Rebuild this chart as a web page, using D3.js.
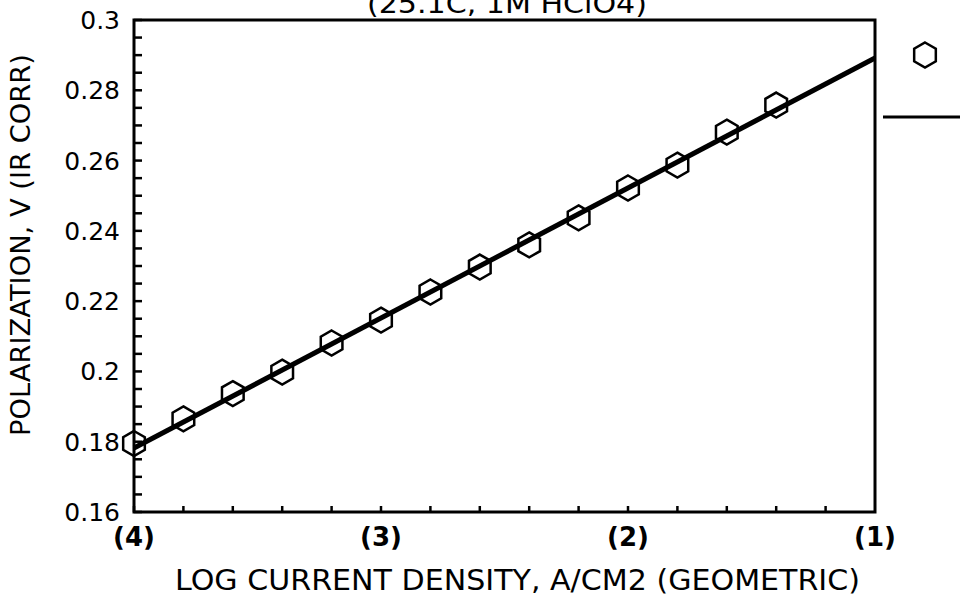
<!DOCTYPE html>
<html>
<head>
<meta charset="utf-8">
<script src="https://cdn.jsdelivr.net/npm/d3@7"></script>
<style>
  body { margin: 0; background: #fff; }
  svg text { font-family: "DejaVu Sans", sans-serif; fill: #000; }
</style>
</head>
<body>
<div id="chart"></div>
<script>
// measured points, log current density vs polarization
const logI = [-4, -3.8, -3.6, -3.4, -3.2, -3.0, -2.8, -2.6, -2.4, -2.2, -2.0, -1.8, -1.6, -1.4];
const polV = [0.1795, 0.1865, 0.1937, 0.1998, 0.2081, 0.2146, 0.2226, 0.2297, 0.2360, 0.2437, 0.2522, 0.2587, 0.2681, 0.2758];

// fitted tafel line
const fitX = [-4, -1];
const fitY = [0.1782, 0.2892];

const xTicks = [-4, -3, -2, -1];
const xTickLabels = ["(4)", "(3)", "(2)", "(1)"];
const yTicks = [0.16, 0.18, 0.2, 0.22, 0.24, 0.26, 0.28, 0.3];
const yTickLabels = ["0.16", "0.18", "0.2", "0.22", "0.24", "0.26", "0.28", "0.3"];

const titleText = "(25.1C, 1M HClO4)";
const xTitle = "LOG CURRENT DENSITY, A/CM2 (GEOMETRIC)";
const yTitle = "POLARIZATION, V (IR CORR)";

const width = 960, height = 597;
const margin = {top: 20, right: 85, bottom: 85, left: 134};

const svg = d3.select("#chart").append("svg")
    .attr("width", width)
    .attr("height", height);

const x = d3.scaleLinear().domain([-4, -1]).range([margin.left, width - margin.right]);
const y = d3.scaleLinear().domain([0.16, 0.3]).range([height - margin.bottom, margin.top]);

// minor ticks (inward)
const xMinor = d3.range(-4, -1.001, 0.2);
const yMinor = d3.range(0.16, 0.3001, 0.005);

svg.append("g").selectAll("line.xm")
    .data(xMinor).enter().append("line")
    .attr("x1", d => x(d)).attr("x2", d => x(d))
    .attr("y1", y(0.16)).attr("y2", y(0.16) - 6)
    .attr("stroke", "#000").attr("stroke-width", 2.5);

svg.append("g").selectAll("line.ym")
    .data(yMinor).enter().append("line")
    .attr("x1", x(-4)).attr("x2", x(-4) + 8)
    .attr("y1", d => y(d)).attr("y2", d => y(d))
    .attr("stroke", "#000").attr("stroke-width", 2.5);

// frame
svg.append("rect")
    .attr("x", x(-4)).attr("y", y(0.3))
    .attr("width", x(-1) - x(-4)).attr("height", y(0.16) - y(0.3))
    .attr("fill", "none").attr("stroke", "#000").attr("stroke-width", 3);

// tick labels
svg.append("g").selectAll("text")
    .data(xTicks).enter().append("text")
    .attr("x", d => x(d)).attr("y", y(0.16) + 34)
    .attr("text-anchor", "middle")
    .style("font-size", "26px")
    .style("font-weight", "bold")
    .text((d, i) => xTickLabels[i]);

svg.append("g").selectAll("text")
    .data(yTicks).enter().append("text")
    .attr("x", x(-4) - 14).attr("y", d => y(d) + 9)
    .attr("text-anchor", "end")
    .style("font-size", "25px")
    .text((d, i) => yTickLabels[i]);

// titles
svg.append("text")
    .attr("x", 507).attr("y", 13)
    .attr("text-anchor", "middle")
    .attr("textLength", 280).attr("lengthAdjust", "spacingAndGlyphs")
    .style("font-size", "26px")
    .text(titleText);

svg.append("text")
    .attr("x", 175).attr("y", 590)
    .attr("textLength", 685).attr("lengthAdjust", "spacingAndGlyphs")
    .style("font-size", "29px")
    .text(xTitle);

svg.append("text")
    .attr("transform", "translate(30,436) rotate(-90)")
    .attr("textLength", 382).attr("lengthAdjust", "spacingAndGlyphs")
    .style("font-size", "26px")
    .text(yTitle);

// fitted line
const line = d3.line().x(d => x(d[0])).y(d => y(d[1]));
svg.append("path")
    .datum(fitX.map((d, i) => [d, fitY[i]]))
    .attr("d", line)
    .attr("fill", "none").attr("stroke", "#000").attr("stroke-width", 5);

// hexagon marker
const hexR = 12.5;
const hexPath = d3.range(6).map(k => {
    const a = Math.PI / 3 * k - Math.PI / 2;
    return [hexR * Math.cos(a), hexR * Math.sin(a)];
});
const hex = "M" + hexPath.map(p => p.join(",")).join("L") + "Z";

svg.append("g").selectAll("path")
    .data(logI.map((d, i) => [d, polV[i]]))
    .enter().append("path")
    .attr("d", hex)
    .attr("transform", d => `translate(${x(d[0])},${y(d[1])})`)
    .attr("fill", "none").attr("stroke", "#000").attr("stroke-width", 2.5);

// legend (cut off at right edge)
svg.append("path")
    .attr("d", hex)
    .attr("transform", "translate(925,55)")
    .attr("fill", "none").attr("stroke", "#000").attr("stroke-width", 2.5);
svg.append("line")
    .attr("x1", 883).attr("x2", 962).attr("y1", 117).attr("y2", 117)
    .attr("stroke", "#000").attr("stroke-width", 3);
</script>
</body>
</html>
